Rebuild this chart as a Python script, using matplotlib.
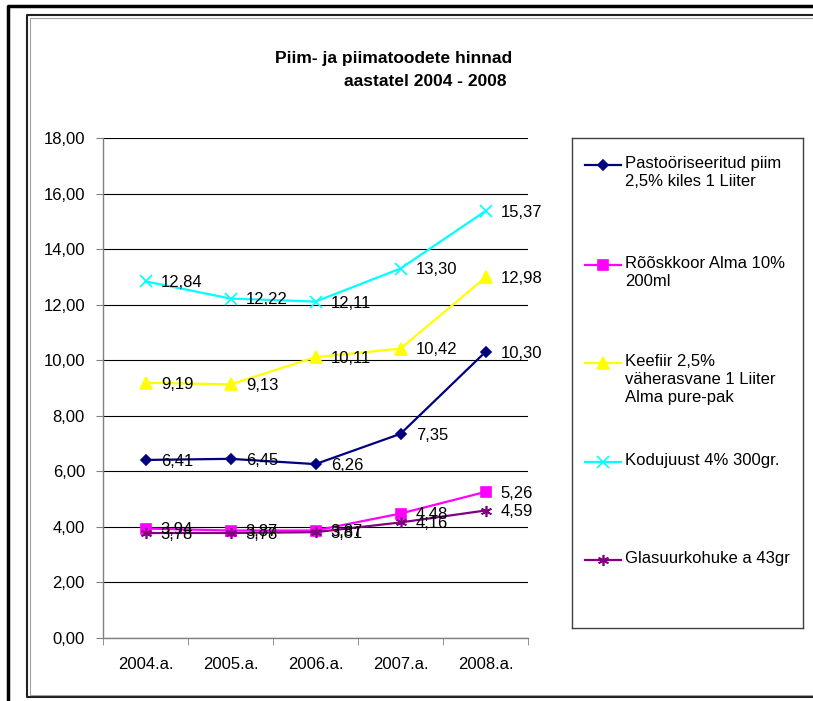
import matplotlib
matplotlib.use('Agg')
import matplotlib.pyplot as plt
from matplotlib.lines import Line2D

plt.rcParams['font.family'] = ['Liberation Sans', 'DejaVu Sans']

# data
years = ['2004.a.', '2005.a.', '2006.a.', '2007.a.', '2008.a.']
piim = [6.41, 6.45, 6.26, 7.35, 10.30]
rooskkoor = [3.94, 3.87, 3.87, 4.48, 5.26]
keefiir = [9.19, 9.13, 10.11, 10.42, 12.98]
kodujuust = [12.84, 12.22, 12.11, 13.30, 15.37]
kohuke = [3.78, 3.78, 3.81, 4.16, 4.59]

names = ['Pastoöriseeritud piim\n2,5% kiles 1 Liiter',
         'Rõõskkoor Alma 10%\n200ml',
         'Keefiir 2,5%\nväherasvane 1 Liiter\nAlma pure-pak',
         'Kodujuust 4% 300gr.',
         'Glasuurkohuke a 43gr']
series = [piim, rooskkoor, keefiir, kodujuust, kohuke]
colors = ['#000080', '#FF00FF', '#FFFF00', '#00FFFF', '#800080']
markers = ['D', 's', '^', 'x', (6, 2, 0)]
msizes = [5.5, 7, 8, 8, 8]

W, H = 813, 701
fig = plt.figure(figsize=(W / 100, H / 100), dpi=100)

def px(x0, y0, x1, y1):
    return [x0 / W, 1 - y1 / H, (x1 - x0) / W, (y1 - y0) / H]

ax = fig.add_axes(px(103, 138, 528, 638))
x = list(range(len(years)))

for s, c, m, ms in zip(series, colors, markers, msizes):
    ax.plot(x, s, color=c, lw=1.6, marker=m, ms=ms, mew=1.2, zorder=3)
    for xi, v in zip(x, s):
        ax.annotate(('%.2f' % v).replace('.', ','), (xi, v), xytext=(11, -1),
                    textcoords='offset points', va='center', ha='left',
                    fontsize=12, zorder=4)

ax.set_xlim(-0.5, 4.5)
ax.set_ylim(0, 18)
ax.set_yticks(range(0, 19, 2))
ax.set_yticklabels(['%d,00' % v for v in range(0, 19, 2)], fontsize=12)
ax.set_xticks(x)
ax.set_xticklabels(years, fontsize=12)
ax.set_xticks([i - 0.5 for i in range(6)], minor=True)
ax.tick_params(axis='x', which='major', length=0, pad=14)
ax.tick_params(axis='x', which='minor', length=5, color='#808080')
ax.tick_params(axis='y', length=5, color='#808080', pad=8)
ax.yaxis.grid(True, color='#000000', lw=0.8)
ax.set_axisbelow(True)
for sp in ['top', 'right']:
    ax.spines[sp].set_visible(False)
for sp in ['left', 'bottom']:
    ax.spines[sp].set_color('#808080')
    ax.spines[sp].set_linewidth(1.0)

# title
fig.text(394 / W, 1 - 58 / H, 'Piim- ja piimatoodete hinnad', ha='center',
         va='center', fontsize=12.5, fontweight='bold')
fig.text(425 / W, 1 - 81 / H, 'aastatel 2004 - 2008', ha='center',
         va='center', fontsize=12.5, fontweight='bold')

# legend box drawn by hand
lax = fig.add_axes(px(572, 138, 803, 628))
lax.set_xlim(572, 803)
lax.set_ylim(628, 138)
lax.set_xticks([])
lax.set_yticks([])
for sp in lax.spines.values():
    sp.set_color('#404040')
    sp.set_linewidth(1.0)
leg_y = [165, 265, 363, 462, 560]
for ly, name, c, m, ms in zip(leg_y, names, colors, markers, msizes):
    lax.plot([585, 621], [ly, ly], color=c, lw=1.6)
    lax.plot([603], [ly], color=c, marker=m, ms=ms, mew=1.2, ls='none')
    lax.text(625, ly - 9, name, ha='left', va='top', fontsize=12,
             linespacing=1.25)

# frames around the chart
fig.add_artist(Line2D([8 / W, 8 / W, 1], [0, 1 - 6 / H, 1 - 6 / H],
                      color='black', lw=2.5))
fig.add_artist(Line2D([1, 27 / W, 27 / W, 1],
                      [1 - 15 / H, 1 - 15 / H, 1 - 697 / H, 1 - 697 / H],
                      color='#202020', lw=1.5))
fig.add_artist(Line2D([1, 29.5 / W, 29.5 / W, 1],
                      [1 - 17.5 / H, 1 - 17.5 / H, 1 - 695 / H, 1 - 695 / H],
                      color='#a0a0a0', lw=0.8))

fig.savefig('out.png', dpi=100)
